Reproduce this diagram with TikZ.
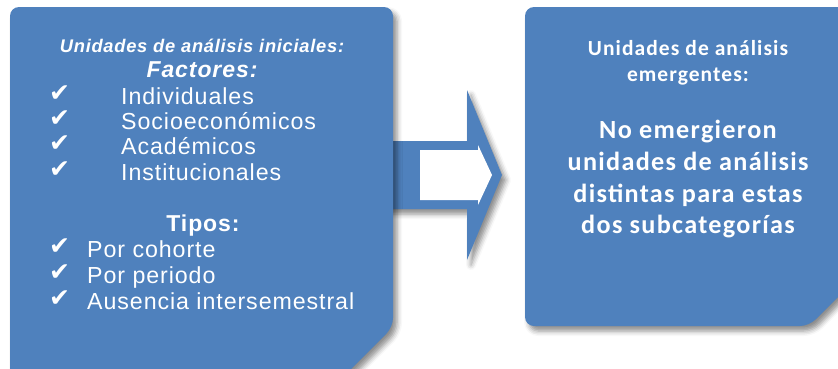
\documentclass[tikz,border=0pt]{standalone}
\usepackage{fontspec}
\setmainfont{Liberation Sans}
\newfontfamily\arialsp[LetterSpace=4]{Liberation Sans}
\newfontfamily\calsp[LetterSpace=5]{Carlito}
\newfontfamily\checkfont{DejaVu Sans}
\usetikzlibrary{shadows.blur}
\definecolor{boxblue}{HTML}{4F81BD}

\begin{document}
\begin{tikzpicture}[x=1pt, y=-1pt,
        sombra/.style={blur shadow={shadow xshift=4pt, shadow yshift=-5pt, shadow blur radius=5pt, shadow opacity=45}},
        panel/.style={fill=boxblue, rounded corners=9pt, sombra},
        txt/.style={text=white, inner sep=0pt},
        titulo/.style={txt, anchor=base, font=\arialsp\bfseries\itshape\fontsize{18.3}{20}\selectfont},
        cabeza/.style={txt, anchor=base, font=\arialsp\bfseries\fontsize{23}{26}\selectfont},
        item/.style={txt, anchor=base west, font=\arialsp\fontsize{23.2}{25}\selectfont},
        chk/.style={txt, anchor=base west, font=\checkfont\fontsize{25}{26}\selectfont},
        emerg/.style={txt, anchor=base, font=\calsp\bfseries\fontsize{21.5}{23}\selectfont},
        grande/.style={txt, anchor=base, font=\calsp\bfseries\fontsize{26.2}{28}\selectfont},
    ]
    \useasboundingbox (0,0) rectangle (838,368);

    % arrow behind the boxes
    \coordinate (flecha) at (393,175);
    \fill[boxblue, sombra] (flecha) ++(-13,-34) -- ++(87,0) -- ++(0,-51)
        -- ++(35,85) -- ++(-35,85) -- ++(0,-51) -- ++(-87,0) -- cycle;
    \fill[white] (flecha) ++(27,-25) -- ++(58,0) -- ++(0,-5)
        -- ++(14,30) -- ++(-14,30) -- ++(0,-5) -- ++(-58,0) -- cycle;

    % boxes
    \fill[panel] (10,7) -- (393,7) -- (393,327) -- (340,380) -- (10,380) -- cycle;
    \fill[panel] (525,7) -- (851,7) -- (851,284) -- (809,326) -- (525,326) -- cycle;

    % left box
    \node[titulo](ini) at (202,52) {Unidades de análisis iniciales:};
    \node[cabeza, font=\arialsp\bfseries\itshape\fontsize{23}{26}\selectfont](fac) at (202,77) {Factores:};
    \node[item](f1) at (121,104) {Individuales};
    \node[item](f2) at (121,129) {Socioeconómicos};
    \node[item](f3) at (121,154) {Académicos};
    \node[item](f4) at (121,180) {Institucionales};
    \node[cabeza](tip) at (203,231) {Tipos:};
    \node[item](t1) at (87,257) {Por cohorte};
    \node[item](t2) at (87,283) {Por periodo};
    \node[item](t3) at (87,309) {Ausencia intersemestral};
    \foreach \y in {101,126,151,177,254,280,306}
        \node[chk] at (49,\y) {✔};

    % right box
    \node[emerg](em1) at (688,55) {Unidades de análisis};
    \node[emerg](em2) at (688,81) {emergentes:};
    \node[grande](g1) at (688,138) {No emergieron};
    \node[grande](g2) at (688,170) {unidades de análisis};
    \node[grande](g3) at (688,202) {distintas para estas};
    \node[grande](g4) at (688,233) {dos subcategorías};
\end{tikzpicture}
\end{document}
